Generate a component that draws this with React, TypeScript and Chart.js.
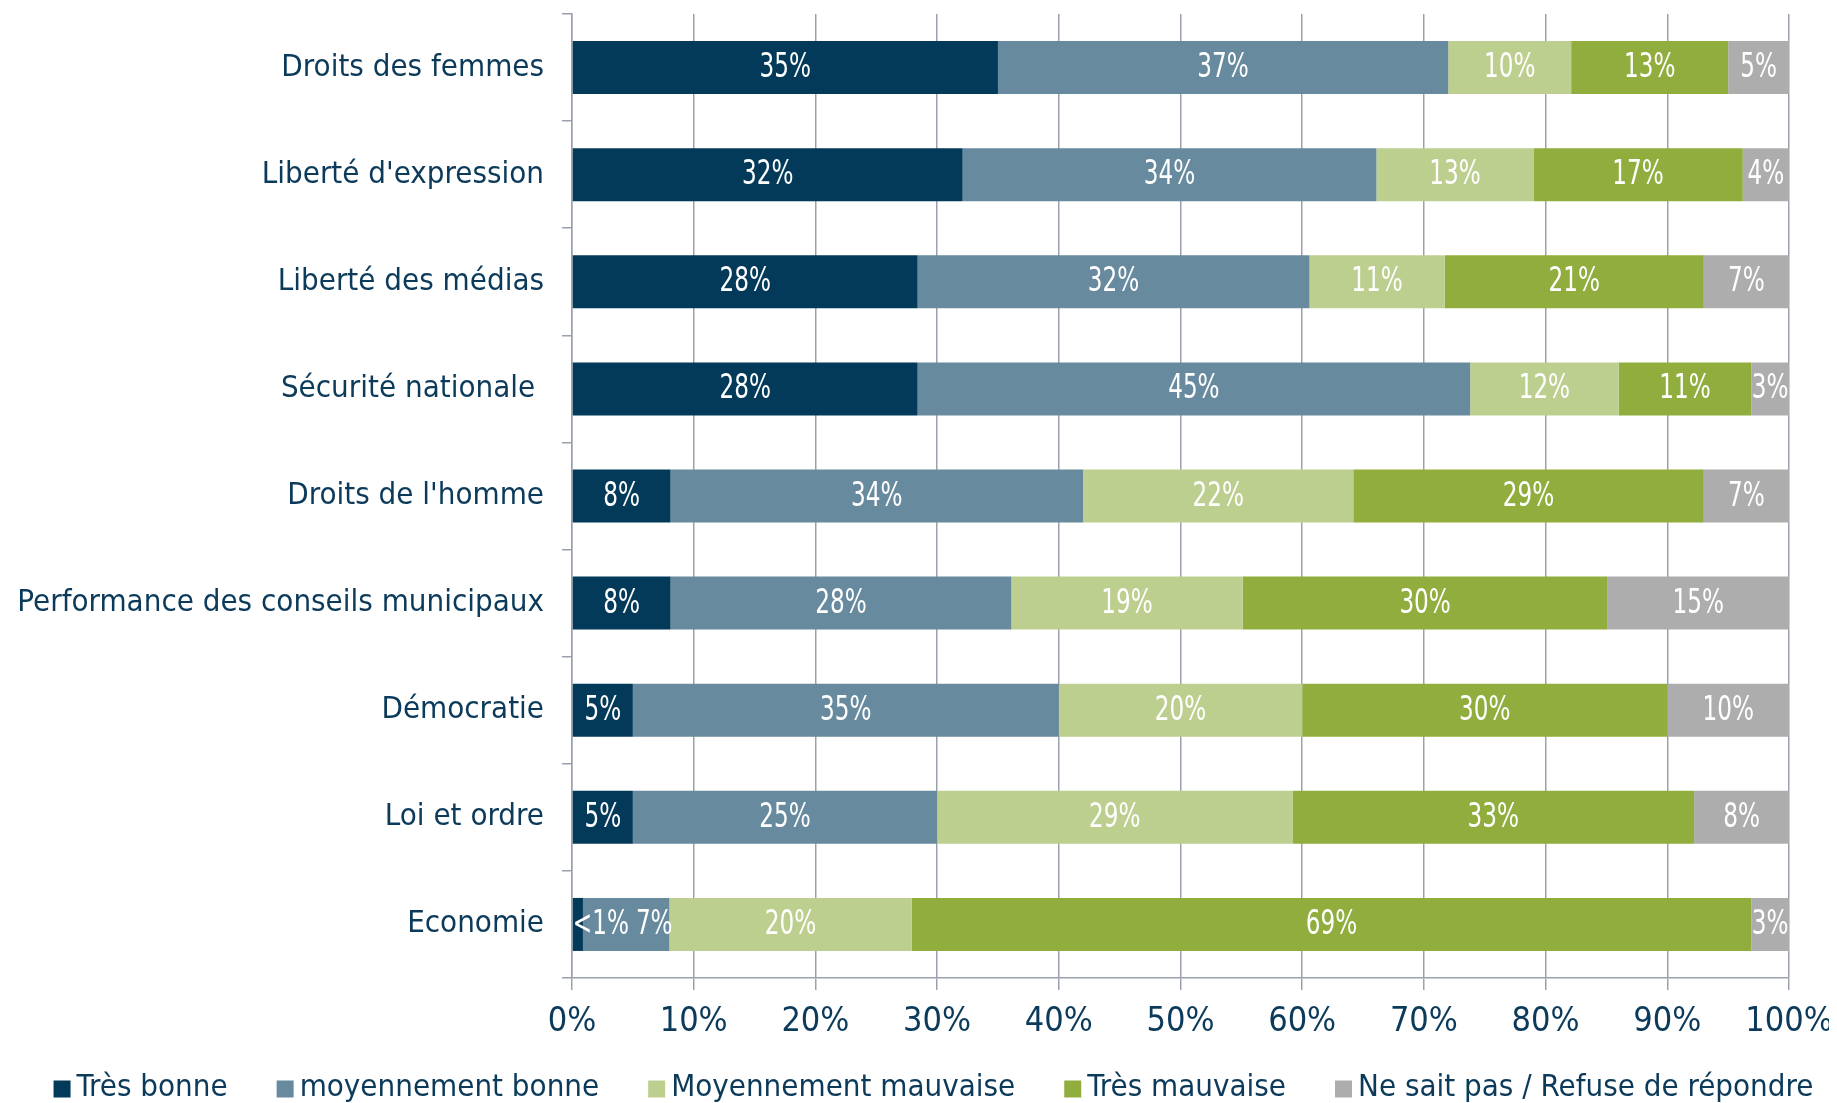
import React, { useEffect, useRef } from "react";
import { Chart, registerables } from "chart.js";

Chart.register(...registerables);

const categories = [
  "Droits des femmes",
  "Liberté d'expression",
  "Liberté des médias",
  "Sécurité nationale ",
  "Droits de l'homme",
  "Performance des conseils municipaux",
  "Démocratie",
  "Loi et ordre",
  "Economie",
];

const seriesNames = [
  "Très bonne",
  "moyennement bonne",
  "Moyennement mauvaise",
  "Très mauvaise",
  "Ne sait pas / Refuse de répondre",
];

const tresBonne = [35, 32.1, 28.4, 28.4, 8.1, 8.1, 5, 5, 0.9];
const moyBonne = [37, 34, 32.2, 45.4, 33.9, 28, 35, 25, 7.1];
const moyMauvaise = [10.1, 12.9, 11.1, 12.2, 22.2, 19, 20, 29.2, 19.9];
const tresMauvaise = [12.9, 17.2, 21.3, 10.9, 28.8, 30, 30, 33, 69];
const neSaitPas = [5, 3.8, 7.0, 3.1, 7.0, 14.9, 10, 7.8, 3.1];

const xTicks = [0, 10, 20, 30, 40, 50, 60, 70, 80, 90, 100];

const seriesValues = [tresBonne, moyBonne, moyMauvaise, tresMauvaise, neSaitPas];
const seriesColors = ["#033a5a", "#678a9e", "#bdcf8f", "#90ad3e", "#adadae"];

const TEXT_COLOR = "#0b3a5a";
const GRID_COLOR = "#9ba1ac";
const COND = "'DejaVu Sans Condensed', 'DejaVu Sans', sans-serif";

const fmt = (v: number) => (v < 1 ? "<1%" : Math.round(v) + "%");

const dataLabelPlugin = {
  id: "dataLabels",
  afterDatasetsDraw(chart: any) {
    const ctx = chart.ctx;
    ctx.save();
    ctx.font = `33px ${COND}`;
    ctx.fillStyle = "#ffffff";
    ctx.textBaseline = "middle";
    ctx.textAlign = "center";
    const sx = 0.78;
    const n = chart.data.labels.length;
    for (let i = 0; i < n; i++) {
      let prevRight = -Infinity;
      chart.data.datasets.forEach((ds: any, di: number) => {
        const meta = chart.getDatasetMeta(di);
        const el: any = meta.data[i];
        if (!el) return;
        const v = ds.data[i];
        const text = fmt(v);
        const w = ctx.measureText(text).width * sx;
        const left = Math.min(el.x, el.base);
        let cx = (el.x + el.base) / 2;
        if (di === 0) cx = Math.max(cx, left + w / 2);
        if (cx - w / 2 < prevRight + 7) cx = prevRight + 7 + w / 2;
        prevRight = cx + w / 2;
        ctx.save();
        ctx.translate(cx, el.y);
        ctx.scale(sx, 1);
        ctx.fillText(text, 0, 1);
        ctx.restore();
      });
    }
    ctx.restore();
  },
};

const legendPlugin = {
  id: "customLegend",
  afterDraw(chart: any) {
    const ctx = chart.ctx;
    ctx.save();
    ctx.font = `31px ${COND}`;
    ctx.textBaseline = "middle";
    ctx.textAlign = "left";
    const box = 17;
    const gap = 6;
    const spacing = 49;
    const items = seriesNames.map((t, i) => ({
      text: t,
      color: seriesColors[i],
      w: ctx.measureText(t).width,
    }));
    const total =
      items.reduce((s, it) => s + box + gap + it.w, 0) + spacing * (items.length - 1);
    let x = chart.width / 2 + 15 - total / 2;
    const y = 1080;
    items.forEach((it) => {
      ctx.fillStyle = it.color;
      ctx.fillRect(x, y - box / 2 + 1, box, box);
      ctx.fillStyle = TEXT_COLOR;
      ctx.fillText(it.text, x + box + gap, y);
      x += box + gap + it.w + spacing;
    });
    ctx.restore();
  },
};

export default function App() {
  const canvasRef = useRef<HTMLCanvasElement | null>(null);

  useEffect(() => {
    document.documentElement.style.overflow = "hidden";
    document.body.style.overflow = "hidden";
    if (!canvasRef.current) return;
    const chart = new Chart(canvasRef.current, {
      type: "bar",
      data: {
        labels: categories,
        datasets: seriesNames.map((name, i) => ({
          label: name,
          data: seriesValues[i],
          backgroundColor: seriesColors[i],
          borderWidth: 0,
          barPercentage: 1,
          categoryPercentage: 0.495,
        })),
      },
      options: {
        indexAxis: "y",
        animation: false,
        responsive: true,
        maintainAspectRatio: false,
        layout: { padding: { top: 6, right: 40, bottom: 48, left: 0 } },
        plugins: {
          legend: { display: false },
          tooltip: { enabled: false },
        },
        scales: {
          x: {
            stacked: true,
            min: 0,
            max: 100,
            afterBuildTicks: (scale: any) => {
              scale.ticks = xTicks.map((v) => ({ value: v }));
            },
            afterFit: (scale: any) => {
              scale.height = 77;
              scale.paddingLeft = 0;
              scale.paddingRight = 0;
            },
            ticks: {
              callback: (v: any) => v + "%",
              color: TEXT_COLOR,
              font: { family: COND, size: 34 },
              padding: 12,
              maxRotation: 0,
              autoSkip: false,
            },
            grid: {
              color: GRID_COLOR,
              lineWidth: 1.5,
              tickLength: 12,
              drawTicks: true,
            },
            border: { display: true, color: GRID_COLOR, width: 1.5 },
          },
          y: {
            stacked: true,
            afterFit: (scale: any) => {
              scale.width = 564;
              scale.paddingTop = 0;
              scale.paddingBottom = 0;
            },
            ticks: {
              color: TEXT_COLOR,
              font: { family: COND, size: 31 },
              padding: 18,
              autoSkip: false,
            },
            grid: {
              drawOnChartArea: false,
              drawTicks: true,
              tickLength: 10,
              color: GRID_COLOR,
              lineWidth: 1.5,
              offset: true,
            },
            border: { display: true, color: GRID_COLOR, width: 1.5 },
          },
        },
      },
      plugins: [dataLabelPlugin, legendPlugin],
    } as any);
    return () => chart.destroy();
  }, []);

  return (
    <div style={{ width: 1821, height: 1095, position: "relative" }}>
      <canvas ref={canvasRef} />
    </div>
  );
}
